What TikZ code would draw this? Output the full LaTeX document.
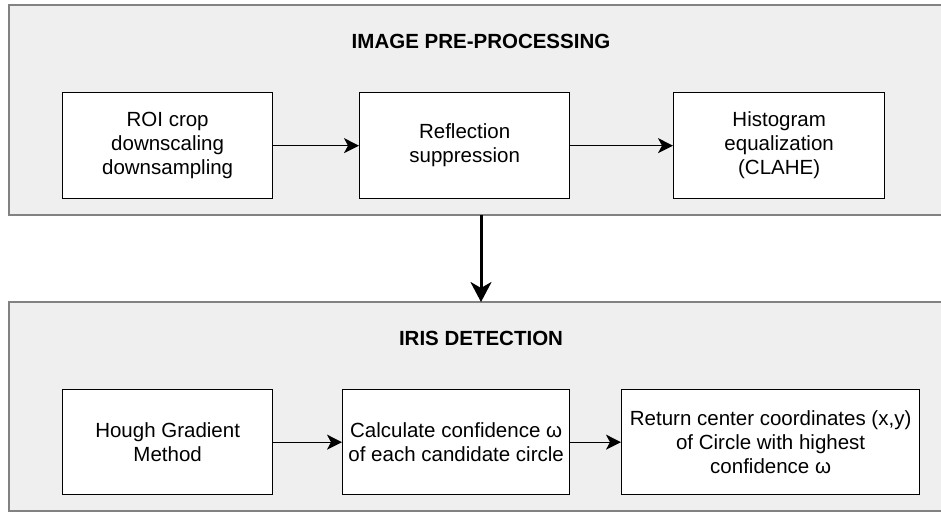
\documentclass[tikz,border=0pt]{standalone}
\usepackage{fontspec}
\setmainfont{Liberation Sans}
\usetikzlibrary{arrows.meta}
\definecolor{panelfill}{HTML}{EFEFEF}
\definecolor{panelline}{HTML}{828282}
\tikzset{
  panel/.style={fill=panelfill, draw=none, inner sep=0pt, anchor=north west},
  panelborder/.style={draw=panelline, line width=2pt},
  stepbox/.style={draw=black, fill=white, line width=1.3pt, inner sep=0pt, align=center,
    font=\fontsize{20.5}{24}\selectfont, anchor=north west},
  paneltitle/.style={font=\bfseries\fontsize{20.5}{24}\selectfont},
  flow/.style={line width=1.3pt, -{Stealth[length=15pt,width=15pt,inset=4pt]}},
  bigflow/.style={line width=3pt, -{Stealth[length=20pt,width=21pt,inset=6pt]}}
}
\begin{document}
\begin{tikzpicture}[x=1pt,y=-1pt]
\useasboundingbox (0,0) rectangle (941,514);
% panels
\node[panel, minimum width=932pt, minimum height=210pt] (pre) at (9,5) {};
\draw[panelborder] (941,5) -- (9,5) -- (9,215) -- (941,215);
\node[panel, minimum width=932pt, minimum height=209pt] (iris) at (9,302) {};
\draw[panelborder] (941,302) -- (9,302) -- (9,511) -- (941,511);
\node[paneltitle] (pretitle) at (481,41) {IMAGE PRE-PROCESSING};
\node[paneltitle] (iristitle) at (481,338) {IRIS DETECTION};
% top row
\node[stepbox, minimum width=210pt, minimum height=106pt] (roi) at (62,92) {ROI crop\\downscaling\\downsampling};
\node[stepbox, minimum width=210pt, minimum height=106pt] (refl) at (359,92) {Reflection\\suppression};
\node[stepbox, minimum width=211pt, minimum height=106pt] (hist) at (673,92) {Histogram\\equalization\\(CLAHE)};
% bottom row
\node[stepbox, minimum width=210pt, minimum height=105pt] (hough) at (62,389) {Hough Gradient\\Method};
\node[stepbox, minimum width=227pt, minimum height=105pt] (conf) at (342,389) {Calculate confidence ω\\of each candidate circle};
\node[stepbox, minimum width=298pt, minimum height=105pt] (ret) at (621,389) {Return center coordinates (x,y)\\of Circle with highest\\confidence ω};
% connectors
\draw[flow] (roi.east) -- (refl.west);
\draw[flow] (refl.east) -- (hist.west);
\draw[flow] (hough.east) -- (conf.west);
\draw[flow] (conf.east) -- (ret.west);
\draw[bigflow] (pre.south -| pretitle.south) -- (iris.north -| pretitle.south);
\end{tikzpicture}
\end{document}
